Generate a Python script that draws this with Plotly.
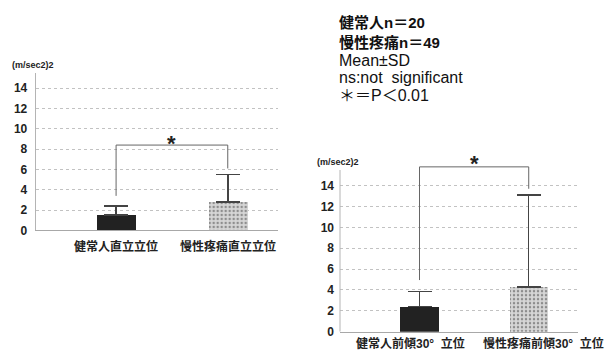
import plotly.graph_objects as go

# ---------------- data ----------------
cats_left = ["健常人直立立位", "慢性疼痛直立立位"]
mean_left = [1.5, 2.8]
sd_left = [0.9, 2.7]
bracket_left_top = 8.4
bracket_left_feet = [3.4, 6.1]
star_left_y = 9.0

cats_right = ["健常人前傾30°\u00a0\u00a0立位", "慢性疼痛前傾30°\u00a0\u00a0立位"]
mean_right = [2.4, 4.3]
sd_right = [1.45, 8.8]
bracket_right_top = 15.8
bracket_right_feet = [4.95, 13.7]
star_right_y = 16.6

y_ticks = [0, 2, 4, 6, 8, 10, 12, 14]
y_unit = "(m/sec2)2"
legend_lines = ["健常人n＝20", "慢性疼痛n＝49", "Mean±SD", "ns:not\u00a0 significant", "＊＝P＜0.01"]

# ---------------- styling ----------------
FONT = "Liberation Sans, Arial, Noto Sans CJK JP"
bar_colors = ["#222222", "#d6d6d6"]
patterns = ["", "."]
W, H = 609, 359

fig = go.Figure()
xpos = [0, 1]

for means, sds, xa, ya in [(mean_left, sd_left, "x", "y"), (mean_right, sd_right, "x2", "y2")]:
    fig.add_trace(go.Bar(
        x=xpos, y=means, width=0.35, xaxis=xa, yaxis=ya,
        marker=dict(color=bar_colors, line=dict(width=0),
                    pattern=dict(shape=patterns, fgcolor="#acacac", size=4, solidity=0.3)),
        error_y=dict(type="data", symmetric=False, array=sds, arrayminus=[0, 0],
                     color="#444", thickness=1.5, width=12),
        showlegend=False, hoverinfo="skip"))

grid = dict(showgrid=True, gridcolor="#c2c2c2", griddash="dot", gridwidth=1,
            tickvals=y_ticks, zeroline=False, ticks="", ticklabelstandoff=5,
            tickfont=dict(family=FONT, size=12, color="#222", weight="bold"))
xcommon = dict(showticklabels=False, showgrid=False, zeroline=False, ticks="",
               showline=True, linecolor="#a8a8a8", linewidth=1)

fig.update_layout(
    width=W, height=H, margin=dict(l=0, r=0, t=0, b=0),
    paper_bgcolor="white", plot_bgcolor="white", bargap=0,
    xaxis=dict(domain=[0.0586, 0.4565], range=[-0.72, 1.45], anchor="y", **xcommon),
    yaxis=dict(domain=[0.3454, 0.7928], range=[0, 15.5], anchor="x",
               showline=True, linecolor="#b4b4b4", linewidth=1, **grid),
    xaxis2=dict(domain=[0.5583, 0.9496], range=[-0.728, 1.454], anchor="y2", **xcommon),
    yaxis2=dict(domain=[0.0577, 0.5763], range=[0, 17.5], anchor="x2",
                showline=False, **grid),
)

shapes = []
# right chart y axis line (stops at 15.5 like the reference)
shapes.append(dict(type="line", xref="x2 domain", yref="y2", x0=0, x1=0, y0=0, y1=15.5,
                   line=dict(color="#b4b4b4", width=1)))
# significance brackets
for top, feet, xa, ya in [(bracket_left_top, bracket_left_feet, "x", "y"),
                          (bracket_right_top, bracket_right_feet, "x2", "y2")]:
    bl = dict(color="#666", width=1)
    shapes.append(dict(type="line", xref=xa, yref=ya, x0=xpos[0], x1=xpos[0], y0=feet[0], y1=top, line=bl))
    shapes.append(dict(type="line", xref=xa, yref=ya, x0=xpos[1], x1=xpos[1], y0=feet[1], y1=top, line=bl))
    shapes.append(dict(type="line", xref=xa, yref=ya, x0=xpos[0], x1=xpos[1], y0=top, y1=top, line=bl))
fig.update_layout(shapes=shapes)

ann = []
# stars
for sy, xa, ya in [(star_left_y, "x", "y"), (star_right_y, "x2", "y2")]:
    ann.append(dict(x=0.5, y=sy, xref=xa, yref=ya, text="<b>*</b>", showarrow=False,
                    font=dict(family=FONT, size=22, color="#222"), yshift=-5))
# y unit labels
ann.append(dict(x=10 / W, y=1 - 66 / H, xref="paper", yref="paper", text=y_unit, showarrow=False,
                xanchor="left", yanchor="middle", font=dict(family=FONT, size=9, color="#222", weight="bold")))
ann.append(dict(x=315 / W, y=1 - 165 / H, xref="paper", yref="paper", text=y_unit, showarrow=False,
                xanchor="left", yanchor="middle", font=dict(family=FONT, size=9, color="#222", weight="bold")))
# category labels
for i, c in enumerate(cats_left):
    ann.append(dict(x=xpos[i], y=1 - 251.7 / H, xref="x", yref="paper", text=c, showarrow=False,
                    yanchor="middle", font=dict(family=FONT, size=12, color="#222", weight="bold")))
for i, (c, sh) in enumerate(zip(cats_right, [-9, 15])):
    ann.append(dict(x=xpos[i], y=1 - 350.5 / H, xref="x2", yref="paper", text=c, showarrow=False,
                    yanchor="middle", xshift=sh, font=dict(family=FONT, size=12, color="#222", weight="bold")))
# legend text block
ys = [23.3, 43.3, 61.7, 79.0, 97.3]
for i, (t, yy) in enumerate(zip(legend_lines, ys)):
    ann.append(dict(x=337 / W, y=1 - yy / H, xref="paper", yref="paper", text=t, showarrow=False,
                    xanchor="left", yanchor="middle",
                    font=dict(family=FONT, size=15 if i < 2 else 16, color="#111",
                              weight="bold" if i < 2 else "normal")))
fig.update_layout(annotations=ann)

fig.write_html("out.html", config={"displayModeBar": False},
               post_script="document.body.style.margin='0px';")
